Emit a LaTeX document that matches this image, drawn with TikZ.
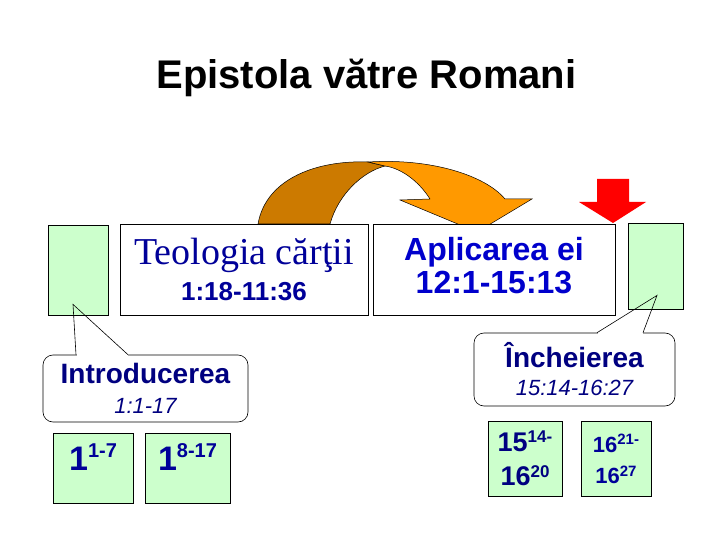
\documentclass[tikz,border=0pt]{standalone}
\usepackage{fontspec}
\setmainfont{Liberation Sans}
\newfontfamily\serifface{Liberation Serif}
\definecolor{navyblue}{HTML}{000099}
\definecolor{royalblue}{HTML}{0000CC}
\definecolor{inkblue}{HTML}{000080}
\definecolor{mint}{HTML}{CCFFCC}
\definecolor{arrowdark}{HTML}{CC7A00}
\definecolor{arrowlight}{HTML}{FF9900}
\newcommand{\fs}[1]{\fontsize{#1}{#1}\selectfont}
\newcommand{\versnum}[4]{#1\raisebox{#4}{\fs{#3}#2}}

\begin{document}
\begin{tikzpicture}[x=1pt, y=-1pt,
  green box/.style={draw, fill=mint, inner sep=0pt, line width=0.8pt, align=center, text=navyblue, font=\bfseries},
  white box/.style={draw, fill=white, inner sep=0pt, line width=0.8pt, align=center},
  balloon/.style={draw, fill=white, rounded corners=10pt, inner sep=0pt, line width=0.6pt, align=center, text=inkblue}]
\useasboundingbox[fill=white] (0,0) rectangle (720,540);

\node[anchor=base, font=\fs{40}\bfseries] (title) at (366.5,89) {Epistola vătre Romani};

\node[green box, minimum width=60pt, minimum height=90pt] (introbox) at (78,270) {};
\node[green box, minimum width=55pt, minimum height=86pt] (finalbox) at (655.5,266) {};

% curved arrow
\draw[fill=arrowdark, line width=0.5pt] (258,224) .. controls (266,178) and (318,160) .. (368,162)
  -- (385,166) .. controls (362,172) and (338,195) .. (330,224) -- cycle;
\draw[fill=arrowlight, line width=0.5pt] (368,162) .. controls (430,158) and (485,175) .. (505,199)
  -- (532,199) -- (477,232) -- (400,200) -- (430,199) .. controls (418,180) and (400,168) .. (385,166) -- cycle;
\fill[red] (597,179) -- (629,179) -- (629,202) -- (646,202) -- (613,223) -- (579,202) -- (597,202) -- cycle;

\node[white box, minimum width=248pt, minimum height=91pt, text=navyblue, font=\fontsize{26}{36}\selectfont\bfseries, text depth=0pt] (teologia) at (244,269.5)
  {{\serifface\mdseries\fs{38}Teologia cărţii}\\1:18-11:36};
\node[white box, minimum width=242pt, minimum height=91pt, text=royalblue, font=\fontsize{32}{33}\selectfont\bfseries, text depth=8pt] (aplicarea) at (494,269.5)
  {Aplicarea ei\\12:1-15:13};

\node[balloon, minimum width=205pt, minimum height=67pt, font=\fontsize{22}{30}\selectfont, text depth=0pt] (intro) at (145.5,388.5)
  {{\fs{28}\bfseries Introducerea}\\\itshape 1:1-17};
\node[balloon, minimum width=201pt, minimum height=73pt, font=\fontsize{22}{28}\selectfont, text depth=2pt] (incheiere) at (574.5,369.5)
  {{\fs{28}\bfseries Încheierea}\\\itshape 15:14-16:27};

\fill[white] ([xshift=-69pt, yshift=1pt]intro.north) rectangle ([xshift=-18pt, yshift=-1pt]intro.north);
\draw[line width=0.6pt] ([xshift=-69.5pt]intro.north) -- ([xshift=-5pt, yshift=11pt]introbox.south) -- ([xshift=-17.5pt]intro.north);
\fill[white] ([xshift=23pt, yshift=1pt]incheiere.north) rectangle ([xshift=68pt, yshift=-1pt]incheiere.north);
\draw[line width=0.6pt] ([xshift=22.5pt]incheiere.north) -- ([xshift=1.5pt, yshift=14pt]finalbox.south) -- ([xshift=68.5pt]incheiere.north);

\node[green box, minimum width=80pt, minimum height=70pt, font=\fs{34}\bfseries, text height=26pt, text depth=22pt] (v1) at (93,468) {\versnum{1}{1-7}{20}{13pt}};
\node[green box, minimum width=85pt, minimum height=70pt, font=\fs{34}\bfseries, text height=26pt, text depth=22pt] (v2) at (187.5,468) {\versnum{1}{8-17}{20}{13pt}};
\node[green box, minimum width=74pt, minimum height=75pt, font=\fontsize{27}{34}\selectfont\bfseries, text=inkblue] (c1) at (525,458.5)
  {\versnum{15}{14-}{17}{9pt}\\\versnum{16}{20}{17}{8pt}};
\node[green box, minimum width=70pt, minimum height=75pt, font=\fontsize{22}{31}\selectfont\bfseries] (c2) at (616,458.5)
  {\versnum{16}{21-}{15}{8pt}\\\versnum{16}{27}{15}{7pt}};
\end{tikzpicture}
\end{document}
